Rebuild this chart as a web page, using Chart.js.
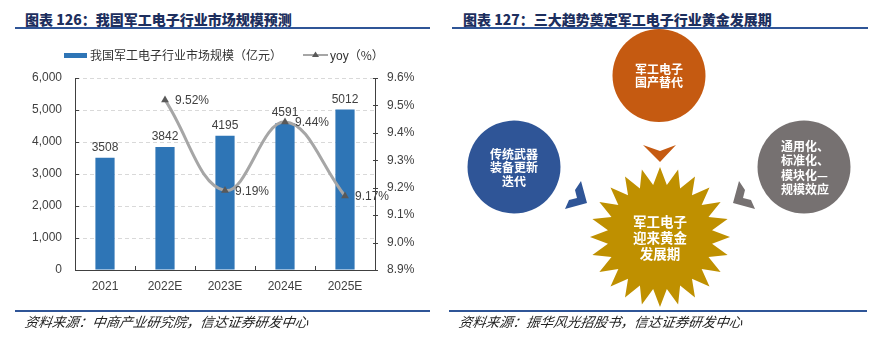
<!DOCTYPE html>
<html>
<head>
<meta charset="utf-8">
<script src="https://cdn.jsdelivr.net/npm/chart.js@4.4.1/dist/chart.umd.min.js"></script>
<style>
  html,body{margin:0;padding:0;background:#fff;}
  body{width:880px;height:339px;position:relative;overflow:hidden;font-family:"Liberation Sans","Noto Sans CJK SC",Arial,sans-serif;}
  .title{position:absolute;top:9px;font-family:"Noto Sans CJK SC",sans-serif;font-weight:900;font-size:14px;color:#1d2f5e;white-space:nowrap;line-height:20px;}
  .rule{position:absolute;height:2px;background:#2f5597;}
  .src{position:absolute;top:312px;font-family:"Noto Sans CJK SC",sans-serif;font-style:italic;font-size:13.5px;color:#222;white-space:nowrap;line-height:18px;transform:skewX(-8deg);}
  #chartWrap{position:absolute;left:0;top:0;width:440px;height:300px;}
  .lg{position:absolute;font-size:12px;color:#333;white-space:nowrap;line-height:14px;top:48px;}
  svg{position:absolute;left:0;top:0;}
</style>
</head>
<body>
<div class="title" style="left:25px;">图表 126：我国军工电子行业市场规模预测</div>
<div class="rule" style="left:15px;width:415px;top:27px;"></div>
<div class="title" style="left:463px;">图表 127：三大趋势奠定军工电子行业黄金发展期</div>
<div class="rule" style="left:452px;width:416px;top:27px;"></div>

<div id="chartWrap"><canvas id="c" width="440" height="300"></canvas></div>

<div class="lg" style="left:64px;top:53px;width:23px;height:5px;background:#2e75b6;"></div>
<div class="lg" style="left:90px;font-family:'Noto Sans CJK SC',sans-serif;">我国军工电子行业市场规模（亿元）</div>
<div class="lg" style="left:303px;top:54px;width:25px;height:2px;background:#a6a6a6;"></div>
<svg width="880" height="339" style="pointer-events:none" id="lgsvg"><polygon points="315.5,51.5 319,57 312,57" fill="#595959"/></svg>
<div class="lg" style="left:330px;">yoy<span style="font-family:'Noto Sans CJK SC',sans-serif;">（%）</span></div>

<div class="rule" style="left:15px;width:415px;top:310px;"></div>
<div class="src" style="left:25px;">资料来源：中商产业研究院，信达证券研发中心</div>
<div class="rule" style="left:449px;width:418px;top:310px;"></div>
<div class="src" style="left:459px;">资料来源：振华风光招股书，信达证券研发中心</div>

<svg width="880" height="339" id="diag">
  <circle cx="659" cy="75.5" r="46.5" fill="#c55a11"/>
  <circle cx="514" cy="167" r="46.5" fill="#2f5597"/>
  <circle cx="804" cy="167" r="46.5" fill="#767171"/>
  <polygon points="643,145 660,151 676,145 660,162" fill="#c55a11"/>
  <polygon points="581,181 587,203 565,209 569,200 577,198 575,190" fill="#2f5597"/>
  <polygon points="739,181 733,203 755,209 751,200 743,198 745,190" fill="#767171"/>
  <polygon id="star" fill="#bf9000"/>
  <g font-family="Noto Sans CJK SC, sans-serif" font-weight="700" fill="#fff" font-size="12" text-anchor="middle">
    <text x="659" y="73.5">军工电子</text>
    <text x="659" y="86.5">国产替代</text>
    <text x="514" y="158.5">传统武器</text>
    <text x="514" y="172">装备更新</text>
    <text x="514" y="186">迭代</text>
  </g>
  <g font-family="Noto Sans CJK SC, sans-serif" font-weight="700" fill="#fff" font-size="12" text-anchor="start">
    <text x="781" y="151">通用化、</text>
    <text x="781" y="165">标准化、</text>
    <text x="781" y="179.5">模块化—</text>
    <text x="781" y="193.5">规模效应</text>
  </g>
  <g font-family="Noto Sans CJK SC, sans-serif" font-weight="700" fill="#fff" font-size="13.5" text-anchor="middle">
    <text x="660" y="226.5">军工电子</text>
    <text x="660" y="242.5">迎来黄金</text>
    <text x="660" y="258.5">发展期</text>
  </g>
</svg>

<script>
// ---- data ----
const categories = ['2021', '2022E', '2023E', '2024E', '2025E'];
const marketSize = [3508, 3842, 4195, 4591, 5012];
const yoy = [null, 9.52, 9.19, 9.44, 9.17];
const leftTicks = [0, 1000, 2000, 3000, 4000, 5000, 6000];
const rightTicks = [8.9, 9.0, 9.1, 9.2, 9.3, 9.4, 9.5, 9.6];

// ---- star shape geometry ----
(function(){
  const cx = 660, cy = 237, ro = 70, ri = 52.5, n = 24;
  const pts = [];
  for (let k = 0; k < 2 * n; k++) {
    const r = (k % 2 === 0) ? ro : ri;
    const a = (-90 + k * 180 / n) * Math.PI / 180;
    pts.push((cx + r * Math.cos(a)).toFixed(2) + ',' + (cy + r * Math.sin(a)).toFixed(2));
  }
  document.getElementById('star').setAttribute('points', pts.join(' '));
})();

const FONT = '"Liberation Sans", Arial, sans-serif';

const labelPlugin = {
  id: 'valueLabels',
  afterDatasetsDraw(chart) {
    const ctx = chart.ctx;
    ctx.save();
    ctx.font = '12px ' + FONT;
    ctx.fillStyle = '#404040';
    ctx.textAlign = 'center';
    ctx.textBaseline = 'bottom';
    chart.getDatasetMeta(0).data.forEach((el, i) => {
      ctx.fillText(String(marketSize[i]), el.x, el.y - 4);
    });
    ctx.textAlign = 'left';
    ctx.textBaseline = 'middle';
    chart.getDatasetMeta(1).data.forEach((el, i) => {
      if (yoy[i] == null) return;
      ctx.fillText(yoy[i].toFixed(2) + '%', el.x + 10, el.y + 1);
    });
    ctx.restore();
  }
};

const tickPlugin = {
  id: 'innerTicks',
  afterDraw(chart) {
    const ctx = chart.ctx;
    const y = chart.scales.y, y1 = chart.scales.y1, x = chart.scales.x;
    const area = chart.chartArea;
    ctx.save();
    ctx.strokeStyle = '#404040';
    ctx.lineWidth = 1;
    ctx.beginPath();
    leftTicks.forEach(v => {
      const py = Math.round(y.getPixelForValue(v)) + 0.5;
      ctx.moveTo(area.left, py); ctx.lineTo(area.left + 4, py);
    });
    rightTicks.forEach(v => {
      const py = Math.round(y1.getPixelForValue(v)) + 0.5;
      ctx.moveTo(area.right - 2, py); ctx.lineTo(area.right + 3, py);
    });
    for (let i = 1; i < categories.length; i++) {
      const px = Math.round((x.getPixelForValue(i - 1) + x.getPixelForValue(i)) / 2) + 0.5;
      ctx.moveTo(px, area.bottom); ctx.lineTo(px, area.bottom - 4);
    }
    ctx.stroke();
    ctx.restore();
  }
};

new Chart(document.getElementById('c'), {
  data: {
    labels: categories,
    datasets: [
      {
        type: 'bar',
        label: '我国军工电子行业市场规模（亿元）',
        data: marketSize,
        backgroundColor: '#2e75b6',
        categoryPercentage: 1,
        barPercentage: 0.32,
        yAxisID: 'y',
        order: 2
      },
      {
        type: 'line',
        label: 'yoy（%）',
        data: yoy,
        borderColor: '#a6a6a6',
        borderWidth: 3,
        tension: 0.4,
        pointStyle: 'triangle',
        pointRadius: 4.5,
        pointBackgroundColor: '#595959',
        pointBorderColor: '#595959',
        pointBorderWidth: 0,
        yAxisID: 'y1',
        order: 1
      }
    ]
  },
  options: {
    responsive: false,
    animation: false,
    devicePixelRatio: 1,
    layout: { padding: { top: 78, left: 0, right: 0, bottom: 0 } },
    plugins: { legend: { display: false }, tooltip: { enabled: false } },
    scales: {
      x: {
        grid: { display: true, drawOnChartArea: false, drawTicks: false },
        border: { display: true, color: '#404040', width: 1 },
        ticks: { color: '#404040', font: { family: FONT, size: 12 }, padding: 9 },
        afterFit(s) { s.height = 30; }
      },
      y: {
        position: 'left',
        min: 0, max: 6000,
        afterBuildTicks(s) { s.ticks = leftTicks.map(v => ({ value: v })); },
        grid: {
          drawTicks: false,
          color: ctx => (ctx.tick && ctx.tick.value === 0) ? 'rgba(0,0,0,0)' : '#d9d9d9',
          lineWidth: 1
        },
        border: { display: true, color: '#404040', width: 1, dash: [4, 3] },
        ticks: {
          color: '#404040', font: { family: FONT, size: 12 }, padding: 13,
          callback: v => Number(v).toLocaleString('en-US')
        },
        afterFit(s) { s.width = 75; }
      },
      y1: {
        position: 'right',
        min: 8.9, max: 9.6,
        afterBuildTicks(s) { s.ticks = rightTicks.map(v => ({ value: v })); },
        grid: { drawOnChartArea: false, drawTicks: false },
        border: { display: true, color: '#404040', width: 1 },
        ticks: {
          color: '#404040', font: { family: FONT, size: 12 }, padding: 12,
          callback: v => Number(v).toFixed(1) + '%'
        },
        afterFit(s) { s.width = 65; }
      }
    }
  },
  plugins: [labelPlugin, tickPlugin]
});
</script>
</body>
</html>
